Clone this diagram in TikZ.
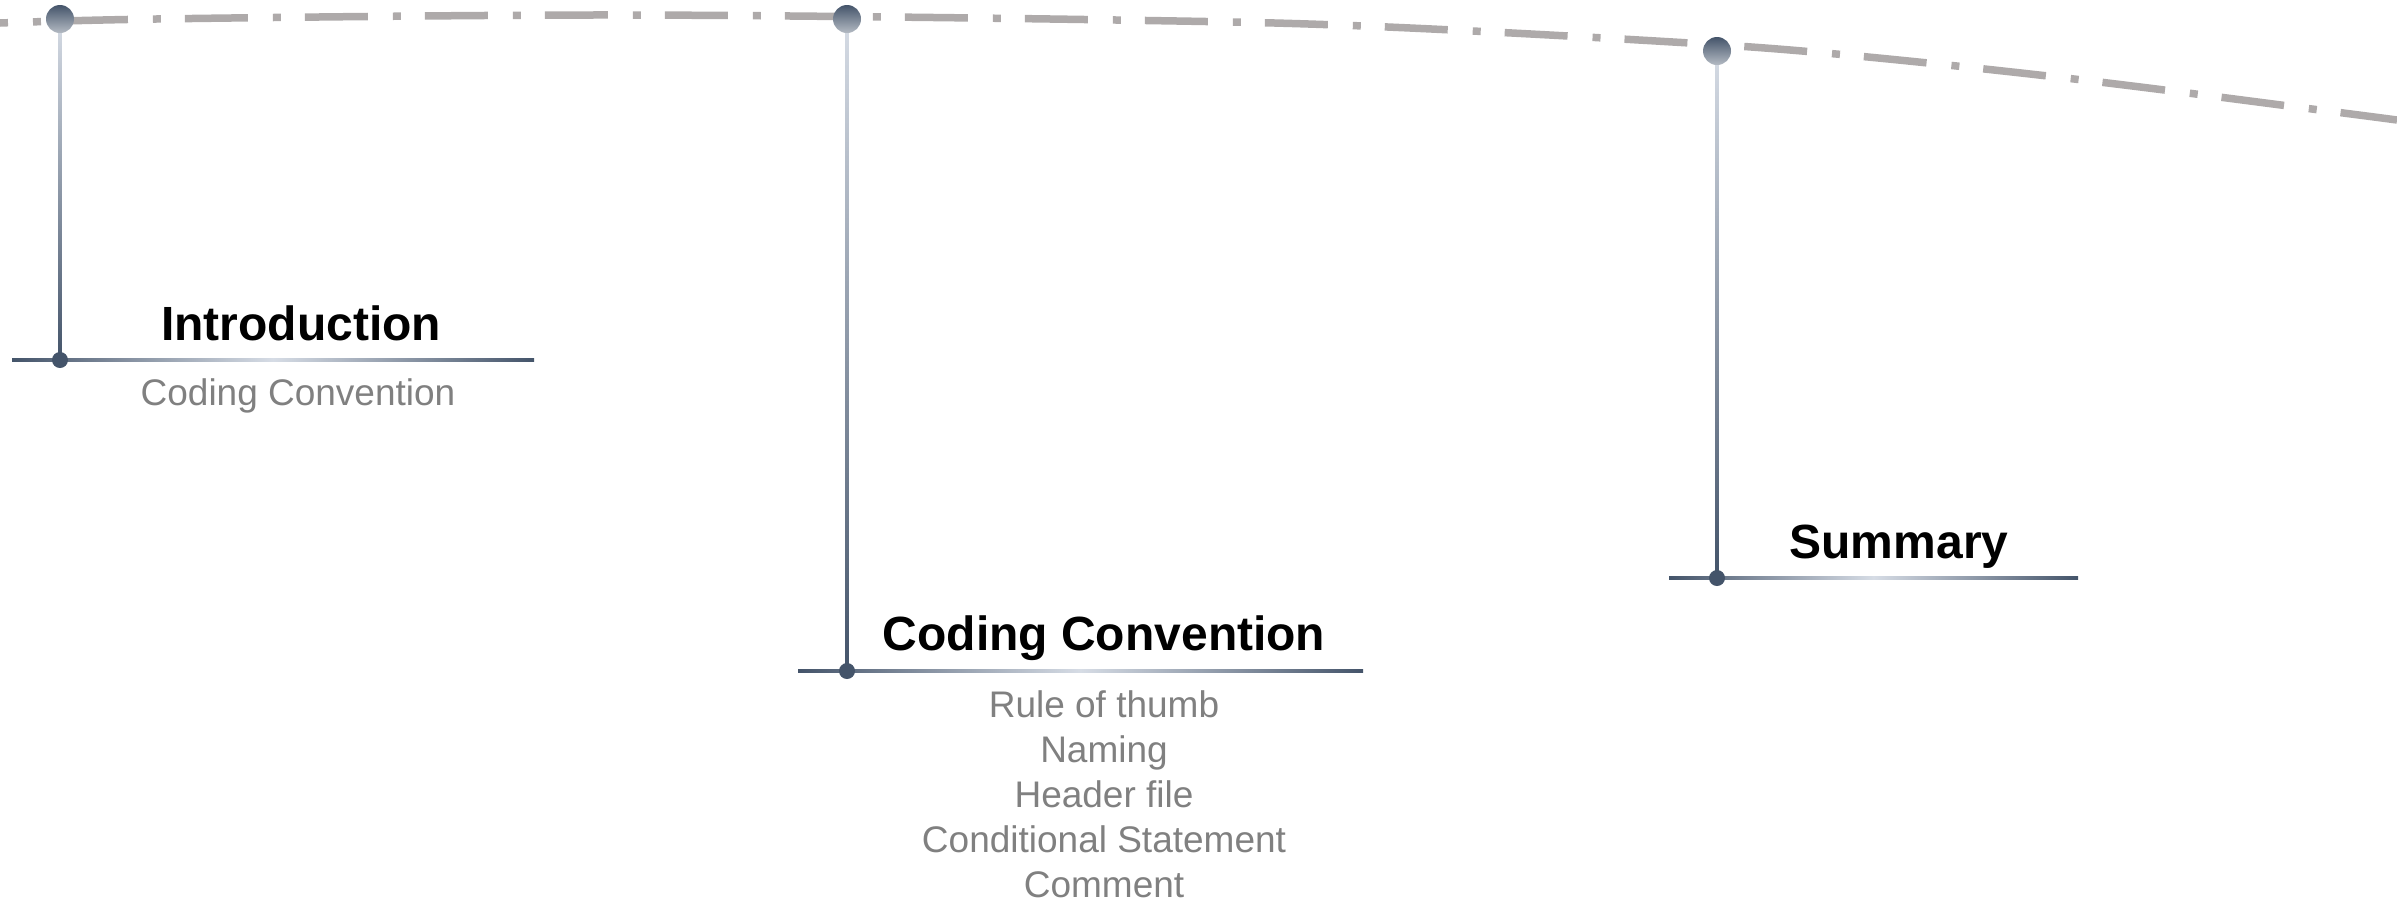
\documentclass[tikz,border=0pt]{standalone}
\usepackage{fontspec}
\setmainfont{Liberation Sans}
\usetikzlibrary{calc,positioning}
\definecolor{slate}{RGB}{68,84,106}
\definecolor{slatelight}{RGB}{214,220,229}
\definecolor{trackgray}{RGB}{174,170,170}
\definecolor{subgray}{RGB}{128,128,128}

\begin{document}
\begin{tikzpicture}[
    x=0.5pt, y=-0.5pt,
    track/.style={draw=trackgray, line width=3.75pt, dash pattern=on 31.5pt off 12.5pt on 4pt off 12pt, dash phase=27.5pt},
    bigdot/.style={circle, inner sep=0pt, minimum size=14pt, top color=slate, bottom color=slate!40!white},
    footdot/.style={circle, fill=slate, inner sep=0pt, minimum size=8pt},
    stem/.style={top color=slatelight, bottom color=slate},
    base/.style={left color=slate, right color=slate, middle color=slatelight},
    title/.style={font=\fontsize{24}{28}\selectfont\bfseries, anchor=base, inner sep=0pt},
    items/.style={font=\fontsize{18.5}{22.5}\selectfont, text=subgray, align=center, inner sep=0pt}
]
    \useasboundingbox (0,0) rectangle (2397,901);

    % Timeline
    \draw[track] plot[smooth, tension=0.6] coordinates {(0,23) (156,19) (515,15.3) (755,15.7) (1116,20) (1356,25.7) (1656,41) (1836,54) (2074,79) (2312,109) (2397,120)};

    % Milestones on the timeline
    \coordinate (topA) at (60,19);
    \coordinate (topB) at (847,19);
    \coordinate (topC) at (1717,51);

    % Feet
    \coordinate (footA) at (60,360);
    \coordinate (footB) at (847,671);
    \coordinate (footC) at (1717,578);

    % Stems
    \shade[stem] ($(topA)+(-1.6,0)$) rectangle ($(footA)+(1.6,0)$);
    \shade[stem] ($(topB)+(-1.6,0)$) rectangle ($(footB)+(1.6,0)$);
    \shade[stem] ($(topC)+(-1.6,0)$) rectangle ($(footC)+(1.6,0)$);

    % Base lines
    \shade[base] ($(footA)+(-48,-1.6)$) rectangle ($(footA)+(474,1.6)$);
    \shade[base] ($(footB)+(-49,-1.6)$) rectangle ($(footB)+(516,1.6)$);
    \shade[base] ($(footC)+(-48,-1.6)$) rectangle ($(footC)+(361,1.6)$);

    % Dots
    \node[bigdot] (dotA) at (topA) {};
    \node[bigdot] (dotB) at (topB) {};
    \node[bigdot] (dotC) at (topC) {};
    \node[footdot] (endA) at (footA) {};
    \node[footdot] (endB) at (footB) {};
    \node[footdot] (endC) at (footC) {};

    % Titles
    \node[title] (Intro) at (301,340) {Introduction};
    \node[title] (Coding) at (1104,650) {Coding Convention};
    \node[title] (Summary) at (1899,558) {Summary};

    % Contents
    \node[items, anchor=base] (IntroList) at (298,405) {Coding Convention};
    \node[items, anchor=north] (CodingList) at (1104,690) {Rule of thumb\\Naming\\Header file\\Conditional Statement\\Comment};
\end{tikzpicture}
\end{document}
